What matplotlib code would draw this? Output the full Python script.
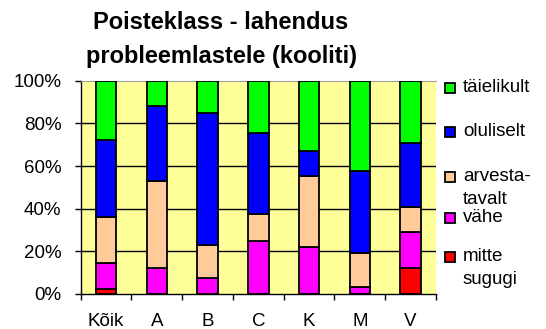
import matplotlib
matplotlib.use("Agg")
import matplotlib.pyplot as plt
import matplotlib.patches as mpatches
import numpy as np

plt.rcParams["font.family"] = ["Liberation Sans", "DejaVu Sans"]

categories = ["Kõik", "A", "B", "C", "K", "M", "V"]
series_names = ["mitte\nsugugi", "vähe", "arvesta-\ntavalt", "oluliselt", "täielikult"]
mitte = [2.5, 0, 0, 0, 0, 0, 12]
vahe = [12, 12, 7.5, 25, 22, 3.5, 17]
arvesta = [21.5, 41, 15.5, 12.5, 33.5, 15.5, 12]
oluliselt = [36, 35, 62, 38, 11.5, 38.5, 30]
taielikult = [28, 12, 15, 24.5, 33, 42.5, 29]
yticks = [0, 20, 40, 60, 80, 100]

COLORS = ["#ff0000", "#ff00ff", "#ffcc99", "#0000ff", "#00ff00"]
series = [mitte, vahe, arvesta, oluliselt, taielikult]

fig = plt.figure(figsize=(5.46, 3.29), dpi=100)
ax = fig.add_axes([80.7 / 546, 35 / 329, (436 - 80.7) / 546, (294 - 80.7) / 329])
ax.set_facecolor("#ffff99")

x = np.arange(len(categories))
bottom = np.zeros(len(categories))
for vals, col in zip(series, COLORS):
    ax.bar(x, vals, 0.4, bottom=bottom, color=col, edgecolor="black",
           linewidth=1.3, zorder=3)
    bottom += np.array(vals)

ax.set_xlim(-0.5, len(categories) - 0.5)
ax.set_ylim(0, 100)
ax.set_yticks(yticks)
ax.set_yticklabels([f"{v}%" for v in yticks], fontsize=13.5)
for v in yticks[1:-1]:
    ax.axhline(v, color="black", linewidth=1, zorder=1)

# category boundaries get ticks, labels sit in the middle
ax.set_xticks(np.arange(-0.5, len(categories), 1.0))
ax.set_xticklabels([])
ax.set_xticks(x, minor=True)
ax.set_xticklabels(categories, minor=True, fontsize=13.5)
ax.tick_params(axis="x", which="major", direction="out", length=4, width=1)
ax.tick_params(axis="x", which="minor", length=0, pad=14)
ax.tick_params(axis="y", direction="out", length=4, width=1, pad=10)

ax.spines["top"].set_color("#a0a0a0")
ax.spines["right"].set_visible(False)
for s in ["left", "bottom"]:
    ax.spines[s].set_linewidth(1)

fig.text(221 / 546, 1 - 11 / 329, "Poisteklass - lahendus\nprobleemlastele (kooliti)",
         ha="center", va="top", fontsize=17, fontweight="bold", linespacing=1.62)

# legend, top entry first
leg_y = [88, 132, 177, 218, 257]
for name, col, yy in zip(series_names[::-1], COLORS[::-1], leg_y):
    fig.patches.append(mpatches.Rectangle((445 / 546, 1 - (yy + 5) / 329), 10 / 546, 10 / 329,
                                          transform=fig.transFigure, facecolor=col,
                                          edgecolor="black", linewidth=1.3))
    fig.text(463 / 546, 1 - (yy - 9) / 329, name, ha="left", va="top",
             fontsize=13.5, linespacing=1.45)

fig.savefig("out.png", dpi=100)
